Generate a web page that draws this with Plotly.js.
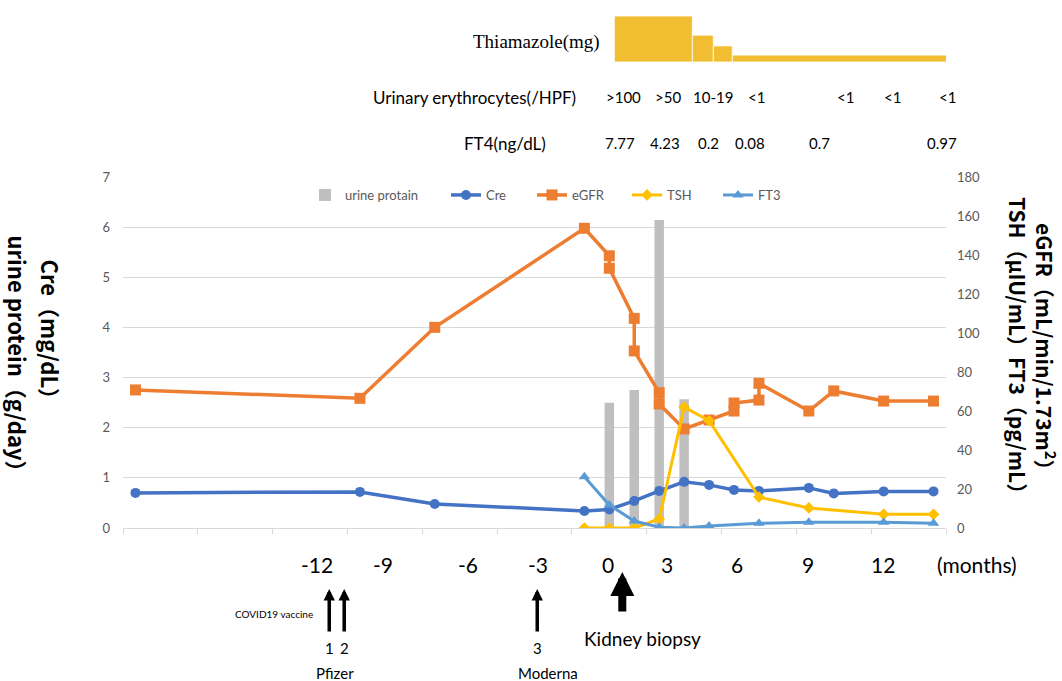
<!DOCTYPE html>
<html><head><meta charset="utf-8">
<script src="https://cdn.plot.ly/plotly-3.0.1.min.js"></script>
<style>html,body{margin:0;padding:0;background:#fff}#chart{width:1062px;height:681px}</style>
</head><body><div id="chart"></div>
<script>
// months relative to kidney biopsy
const eGFRMonths = [-19,-10,-7,-1,0,0,1,1,2,2,3,4,5,5,6,6,8,9,11,13];
const eGFR = [70.8,66.5,102.9,153.7,139.6,133.2,107.5,90.8,69.4,63.6,50.8,55.4,60.0,64.1,65.6,74.2,60.0,70.3,65.1,65.1];
const creMonths = [-19,-10,-7,-1,0,1,2,3,4,5,6,8,9,11,13];
const cre = [0.70,0.72,0.48,0.34,0.37,0.54,0.74,0.92,0.86,0.76,0.74,0.80,0.69,0.73,0.73];
const tshMonths = [-1,0,1,2,3,4,6,8,11,13];
const tsh = [0,0,0,4.6,62,55,15.9,10.3,7,7];
const ft3Months = [-1,0,1,2,3,4,6,8,11,13];
const ft3 = [26.3,11.8,3.6,0.4,0,1.0,2.4,3.0,3.0,2.5];
const proteinMonths = [0,1,2,3];
const urineProtein = [2.50,2.75,6.14,2.57];
const thiaStart = [0.2,3.33,4.17,4.93];
const thiaEnd = [3.33,4.17,4.93,13.75];
const thiaDose = [30,17.5,10.5,4.5];
const rbcLabels = ['>100','>50','10-19','<1','<1','<1','<1'];
const rbcMonths = [0.56,2.37,4.17,5.9,9.46,11.35,13.55];
const ft4Labels = ['7.77','4.23','0.2','0.08','0.7','0.97'];
const ft4Months = [0.44,2.25,3.97,5.65,8.42,13.35];
const monthTickLabels = ['-12','-9','-6','-3','0','3','6','9','12'];
const monthTickPos = [-11.71,-9.06,-5.65,-2.85,-0.04,2.33,5.13,7.98,10.99];
const vaccineLabels = ['1','2','3'];
const vaccineMonths = [-11.23,-10.63,-2.89];
const vaccineMakers = ['Pfizer','Moderna'];
const vaccineMakerMonths = [-10.99,-2.45];
const biopsyMonth = 0.52;

const XMIN = -19.5, XMAX = 13.5;
const W = 1062, H = 681, ML = 123, MR = 116, MT = 10, MB = 153;
const PW = W - ML - MR, PH = H - MT - MB;
const px2x = p => (p - ML) / PW;
const py2y = p => (H - MB - p) / PH;
const m2x = m => (m - XMIN) / (XMAX - XMIN);

const tickFont = {family: 'Lato, sans-serif', size: 13, color: '#595959'};
const blackFont = (s) => ({family: 'Lato, sans-serif', size: s, color: '#000'});
const titleFont = {family: "'Noto Sans CJK JP', 'Noto Sans', sans-serif", size: 21, color: '#000'};
const leftTitleFont = Object.assign({}, titleFont, {size: 22});

const traces = [
  {type: 'bar', name: 'urine protain', x: proteinMonths, y: urineProtein, width: 0.38,
   marker: {color: '#BFBFBF'}, xaxis: 'x', yaxis: 'y', legend: 'legend'},
  {type: 'scatter', mode: 'lines+markers', name: 'Cre', x: creMonths, y: cre,
   line: {color: '#4472C4', width: 3.5}, marker: {symbol: 'circle', size: 10, color: '#4472C4'},
   xaxis: 'x', yaxis: 'y', legend: 'legend2'},
  {type: 'scatter', mode: 'lines+markers', name: 'eGFR', x: eGFRMonths, y: eGFR,
   line: {color: '#ED7D31', width: 3.5}, marker: {symbol: 'square', size: 11, color: '#ED7D31'},
   xaxis: 'x', yaxis: 'y2', legend: 'legend3'},
  {type: 'scatter', mode: 'lines+markers', name: 'TSH', x: tshMonths, y: tsh,
   line: {color: '#FFC000', width: 3}, marker: {symbol: 'diamond', size: 9, color: '#FFC000'},
   xaxis: 'x', yaxis: 'y2', legend: 'legend4'},
  {type: 'scatter', mode: 'lines+markers', name: 'FT3', x: ft3Months, y: ft3,
   line: {color: '#5B9BD5', width: 3}, marker: {symbol: 'triangle-up', size: 10, color: '#5B9BD5'},
   xaxis: 'x', yaxis: 'y2', legend: 'legend5'},
  {type: 'bar', name: 'Thiamazole', x: thiaStart.map((s, i) => (s + thiaEnd[i]) / 2),
   width: thiaStart.map((s, i) => thiaEnd[i] - s), y: thiaDose,
   marker: {color: '#F0BE30', line: {color: '#ffffff', width: 0.8}}, xaxis: 'x', yaxis: 'y3',
   showlegend: false, hoverinfo: 'skip'}
];

const ann = [];
// axis titles (both read top-to-bottom, like the reference)
ann.push({text: '<b>urine protein（g/day）</b>', textangle: 90, x: px2x(18), y: py2y(233), yanchor: 'top', font: leftTitleFont});
ann.push({text: '<b>Cre（mg/dL）</b>', textangle: 90, x: px2x(51), y: py2y(257), yanchor: 'top', font: leftTitleFont});
ann.push({text: '<b>TSH（μIU/mL）FT3（pg/mL）</b>', textangle: 90, x: px2x(1018), y: py2y(350), font: titleFont});
ann.push({text: '<b>eGFR（mL/min/1.73m<sup>2</sup>）</b>', textangle: 90, x: px2x(1046), y: py2y(352), font: titleFont});
// top rows
ann.push({text: 'Thiamazole(mg)', x: px2x(602), y: py2y(42), xanchor: 'right',
  font: {family: "'Liberation Serif', serif", size: 19, color: '#000'}});
ann.push({text: 'Urinary erythrocytes(/HPF)', x: px2x(578), y: py2y(97), xanchor: 'right', font: blackFont(17)});
rbcLabels.forEach((t, i) => ann.push({text: t, x: m2x(rbcMonths[i]), y: py2y(97), font: blackFont(15)}));
ann.push({text: 'FT4(ng/dL)', x: px2x(548), y: py2y(143), xanchor: 'right', font: blackFont(17)});
ft4Labels.forEach((t, i) => ann.push({text: t, x: m2x(ft4Months[i]), y: py2y(143), font: blackFont(15)}));
// month labels
monthTickLabels.forEach((t, i) => ann.push({text: t, x: m2x(monthTickPos[i]), y: py2y(564), font: blackFont(21)}));
ann.push({text: '(months)', x: px2x(977), y: py2y(564), font: blackFont(21)});
// vaccine doses: number label with an arrow pointing up to the time line
vaccineMonths.forEach((m, i) => {
  ann.push({text: vaccineLabels[i], x: m2x(m), y: py2y(589), showarrow: true, ax: 0, ay: 59,
    arrowhead: 2, arrowsize: 0.65, arrowwidth: 3.5, arrowcolor: '#000', standoff: 0, startstandoff: 6,
    font: blackFont(15)});
});
vaccineMakers.forEach((t, i) => ann.push({text: t, x: m2x(vaccineMakerMonths[i]), y: py2y(673), font: blackFont(15)}));
ann.push({text: 'COVID19 vaccine', x: px2x(274), y: py2y(614), font: blackFont(10)});
// biopsy
ann.push({text: '', x: m2x(biopsyMonth), y: py2y(572), showarrow: true, ax: 0, ay: 41,
  arrowhead: 2, arrowsize: 0.6, arrowwidth: 8, arrowcolor: '#000', standoff: 0});
ann.push({text: 'Kidney biopsy', x: px2x(642), y: py2y(638), font: blackFont(19)});
ann.forEach(a => {
  a.xref = 'paper';
  a.yref = 'paper';
  if (!a.xanchor) a.xanchor = 'center';
  if (!a.yanchor) a.yanchor = 'middle';
  if (a.showarrow === undefined) a.showarrow = false;
});

const legendBase = {orientation: 'h', xanchor: 'left', yanchor: 'middle', y: py2y(195),
  bgcolor: 'rgba(0,0,0,0)', font: {family: 'Lato, sans-serif', size: 13, color: '#595959'}};
const legendStarts = [305, 446, 532, 627, 718];
const layout = {
  width: W, height: H,
  margin: {l: ML, r: MR, t: MT, b: MB},
  paper_bgcolor: '#fff', plot_bgcolor: 'rgba(0,0,0,0)',
  font: {family: 'Lato, sans-serif'},
  showlegend: true,
  xaxis: {range: [XMIN, XMAX], anchor: 'y', showline: true, linecolor: '#D9D9D9', linewidth: 1,
    ticks: 'outside', tickmode: 'linear', tick0: -10.5, dtick: 3, ticklen: 5, tickcolor: '#D9D9D9',
    showticklabels: false, showgrid: false, zeroline: false, fixedrange: true},
  yaxis: {domain: [0, py2y(177)], range: [0, 7], dtick: 1, gridcolor: '#D9D9D9', gridwidth: 1,
    tickfont: tickFont, zeroline: false, showline: false, ticklabelstandoff: 12, anchor: 'x'},
  yaxis2: {overlaying: 'y', side: 'right', range: [0, 180], dtick: 20, showgrid: false, zeroline: false,
    tickfont: tickFont, ticklabelstandoff: 10, anchor: 'x'},
  yaxis3: {domain: [py2y(62), py2y(16)], range: [0, 30], visible: false, anchor: 'x'},
  annotations: ann
};
['legend', 'legend2', 'legend3', 'legend4', 'legend5'].forEach((k, i) => {
  layout[k] = Object.assign({}, legendBase, {x: px2x(legendStarts[i])});
});
Plotly.newPlot('chart', traces, layout, {displayModeBar: false, staticPlot: true});
</script>
</body></html>
